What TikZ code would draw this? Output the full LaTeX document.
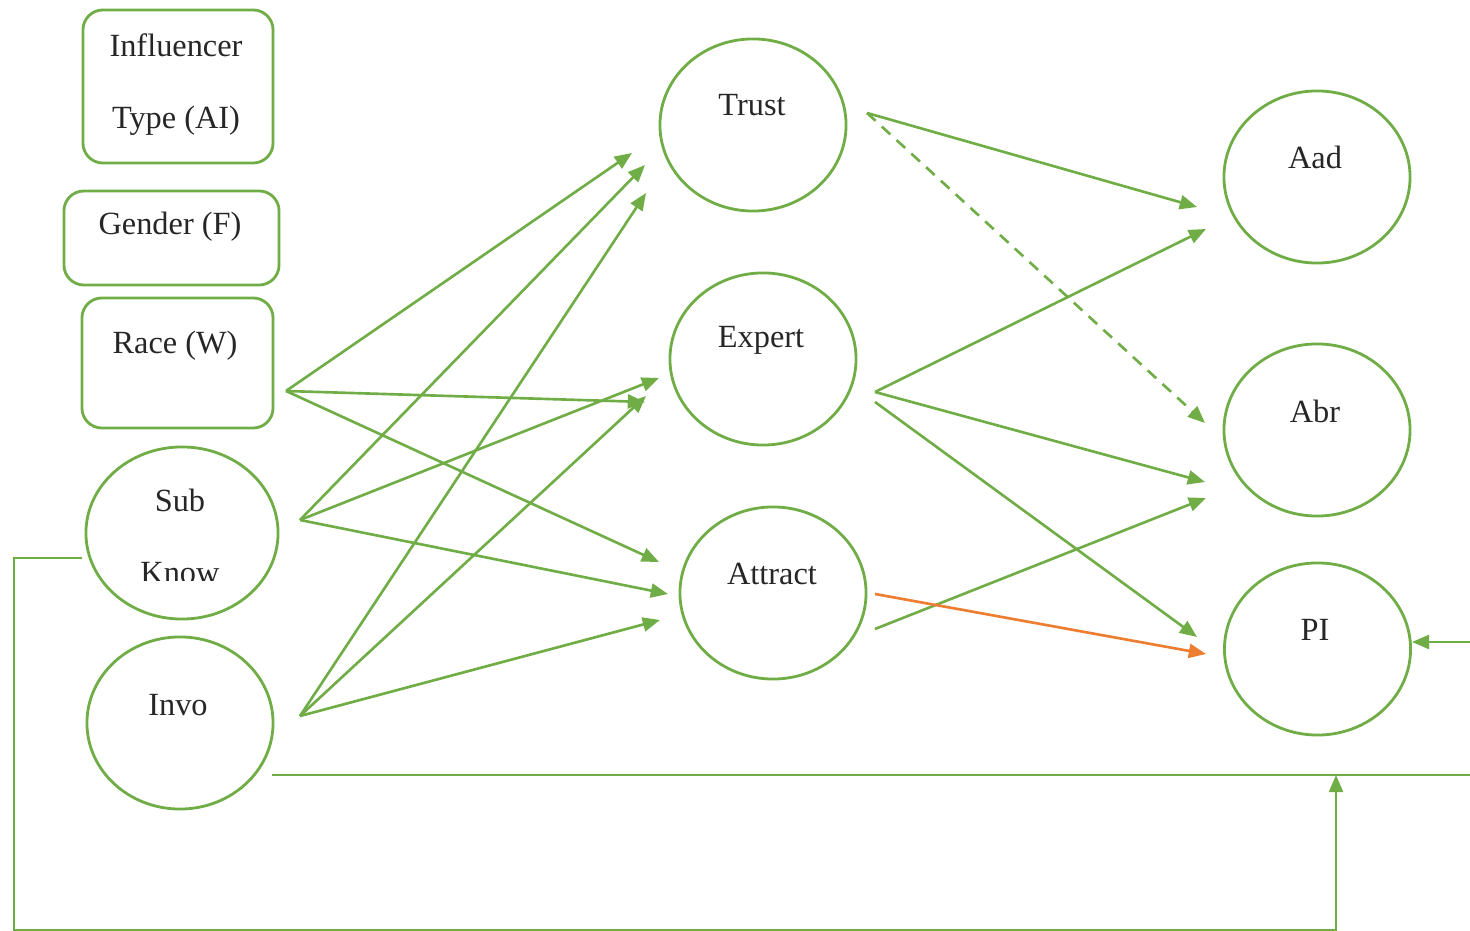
\documentclass[tikz,border=0pt]{standalone}
\usepackage{fontspec}
\setmainfont{Liberation Serif}
\usetikzlibrary{shapes.geometric,arrows.meta}
\definecolor{leaf}{HTML}{70AD47}
\definecolor{amber}{HTML}{ED7D31}
\tikzset{
  oval/.style={ellipse, draw=leaf, line width=0.8pt, minimum width=1.86cm, minimum height=1.72cm, inner sep=0pt},
  card/.style={rectangle, rounded corners=0.2cm, draw=leaf, line width=0.8pt, inner sep=0pt},
  lbl/.style={font=\fontsize{9.2}{11}\selectfont, text=black!85, inner sep=0pt},
  link/.style={draw=leaf, line width=0.75pt, -{Triangle[length=4.9pt,width=4pt]}},
  plain/.style={draw=leaf, line width=0.75pt},
  hot/.style={draw=amber, line width=0.75pt, -{Triangle[length=4.9pt,width=4pt]}, fill=amber}
}
\begin{document}
\begin{tikzpicture}[x=0.01cm, y=-0.01cm]
\useasboundingbox (0,0) rectangle (1470,931);

% left-hand boxes
\node[card, minimum width=1.90cm, minimum height=1.53cm] (ai) at (178,86.5) {};
\node[lbl] (aiA) at (176,45) {Influencer};
\node[lbl] (aiB) at (176,121) {Type (AI)};
\node[card, minimum width=2.15cm, minimum height=0.94cm] (gen) at (171.5,238) {};
\node[lbl] (genT) at (170,227) {Gender (F)};
\node[card, minimum width=1.91cm, minimum height=1.30cm] (race) at (177.5,363) {};
\node[lbl] (raceT) at (175,346) {Race (W)};

% left-hand ovals
\node[oval, minimum width=1.92cm] (sub) at (182,533) {};
\node[lbl] (subA) at (180,500) {Sub};
\begin{scope}
  \clip (100,540) rectangle (260,581);
  \node[lbl] (subB) at (180,573) {Know};
\end{scope}
\node[oval] (invo) at (180,723) {};
\node[lbl] (invoT) at (178,705) {Invo};

% middle ovals
\node[oval] (trust) at (753,125) {};
\node[lbl] (trustT) at (752,105) {Trust};
\node[oval] (expert) at (763,359) {};
\node[lbl] (expertT) at (761,340) {Expert};
\node[oval] (attract) at (773,593) {};
\node[lbl] (attractT) at (772,574) {Attract};

% right-hand ovals
\node[oval] (aad) at (1317,177) {};
\node[lbl] (aadT) at (1315,157) {Aad};
\node[oval] (abr) at (1317,430) {};
\node[lbl] (abrT) at (1315,411) {Abr};
\node[oval] (pi) at (1317.5,649) {};
\node[lbl] (piT) at (1315,630) {PI};

% connector end points
\coordinate (rO) at (286,391);
\coordinate (sO) at (300,520);
\coordinate (vO) at (300,716);
\coordinate (tO) at (867,113);
\coordinate (eO) at (875,392);
\coordinate (eP) at (875,402);
\coordinate (aO) at (875,629);
\coordinate (aP) at (875,594);

\coordinate (tIn1) at (632,153);
\coordinate (tIn2) at (645,165);
\coordinate (tIn3) at (646,193);
\coordinate (eIn1) at (645,402);
\coordinate (eIn2) at (659,378);
\coordinate (eIn3) at (646,396);
\coordinate (cIn1) at (659,562);
\coordinate (cIn2) at (668,594);
\coordinate (cIn3) at (660,620);

\coordinate (aadIn1) at (1197,207);
\coordinate (aadIn2) at (1206,229);
\coordinate (abrIn1) at (1205,423);
\coordinate (abrIn2) at (1205,482);
\coordinate (abrIn3) at (1206,498);
\coordinate (piIn1) at (1197,637);
\coordinate (piIn2) at (1206,654);

% first layer
\draw[link] (rO) -- (tIn1);
\draw[link] (rO) -- (eIn1);
\draw[link] (rO) -- (cIn1);
\draw[link] (sO) -- (tIn2);
\draw[link] (sO) -- (eIn2);
\draw[link] (sO) -- (cIn2);
\draw[link] (vO) -- (tIn3);
\draw[link] (vO) -- (eIn3);
\draw[link] (vO) -- (cIn3);

% second layer
\draw[link] (tO) -- (aadIn1);
\draw[link, dash pattern=on 3.3pt off 2.4pt] (tO) -- (abrIn1);
\draw[link] (eO) -- (aadIn2);
\draw[link] (eO) -- (abrIn2);
\draw[link] (eP) -- (piIn1);
\draw[link] (aO) -- (abrIn3);
\draw[hot] (aP) -- (piIn2);

% feedback lines
\coordinate (rEdge) at (1470,642);
\draw[link] (rEdge) -- (pi.east |- rEdge);
\coordinate (invoR) at (272,775);
\coordinate (farR) at (1470,775);
\draw[plain] (invoR) -- (farR);
\coordinate (subL) at (82,558);
\coordinate (joinUp) at (1336,775);
\draw[link] (subL) -- (14,558) -- (14,930) -- (1336,930) -- (joinUp);
\end{tikzpicture}
\end{document}
